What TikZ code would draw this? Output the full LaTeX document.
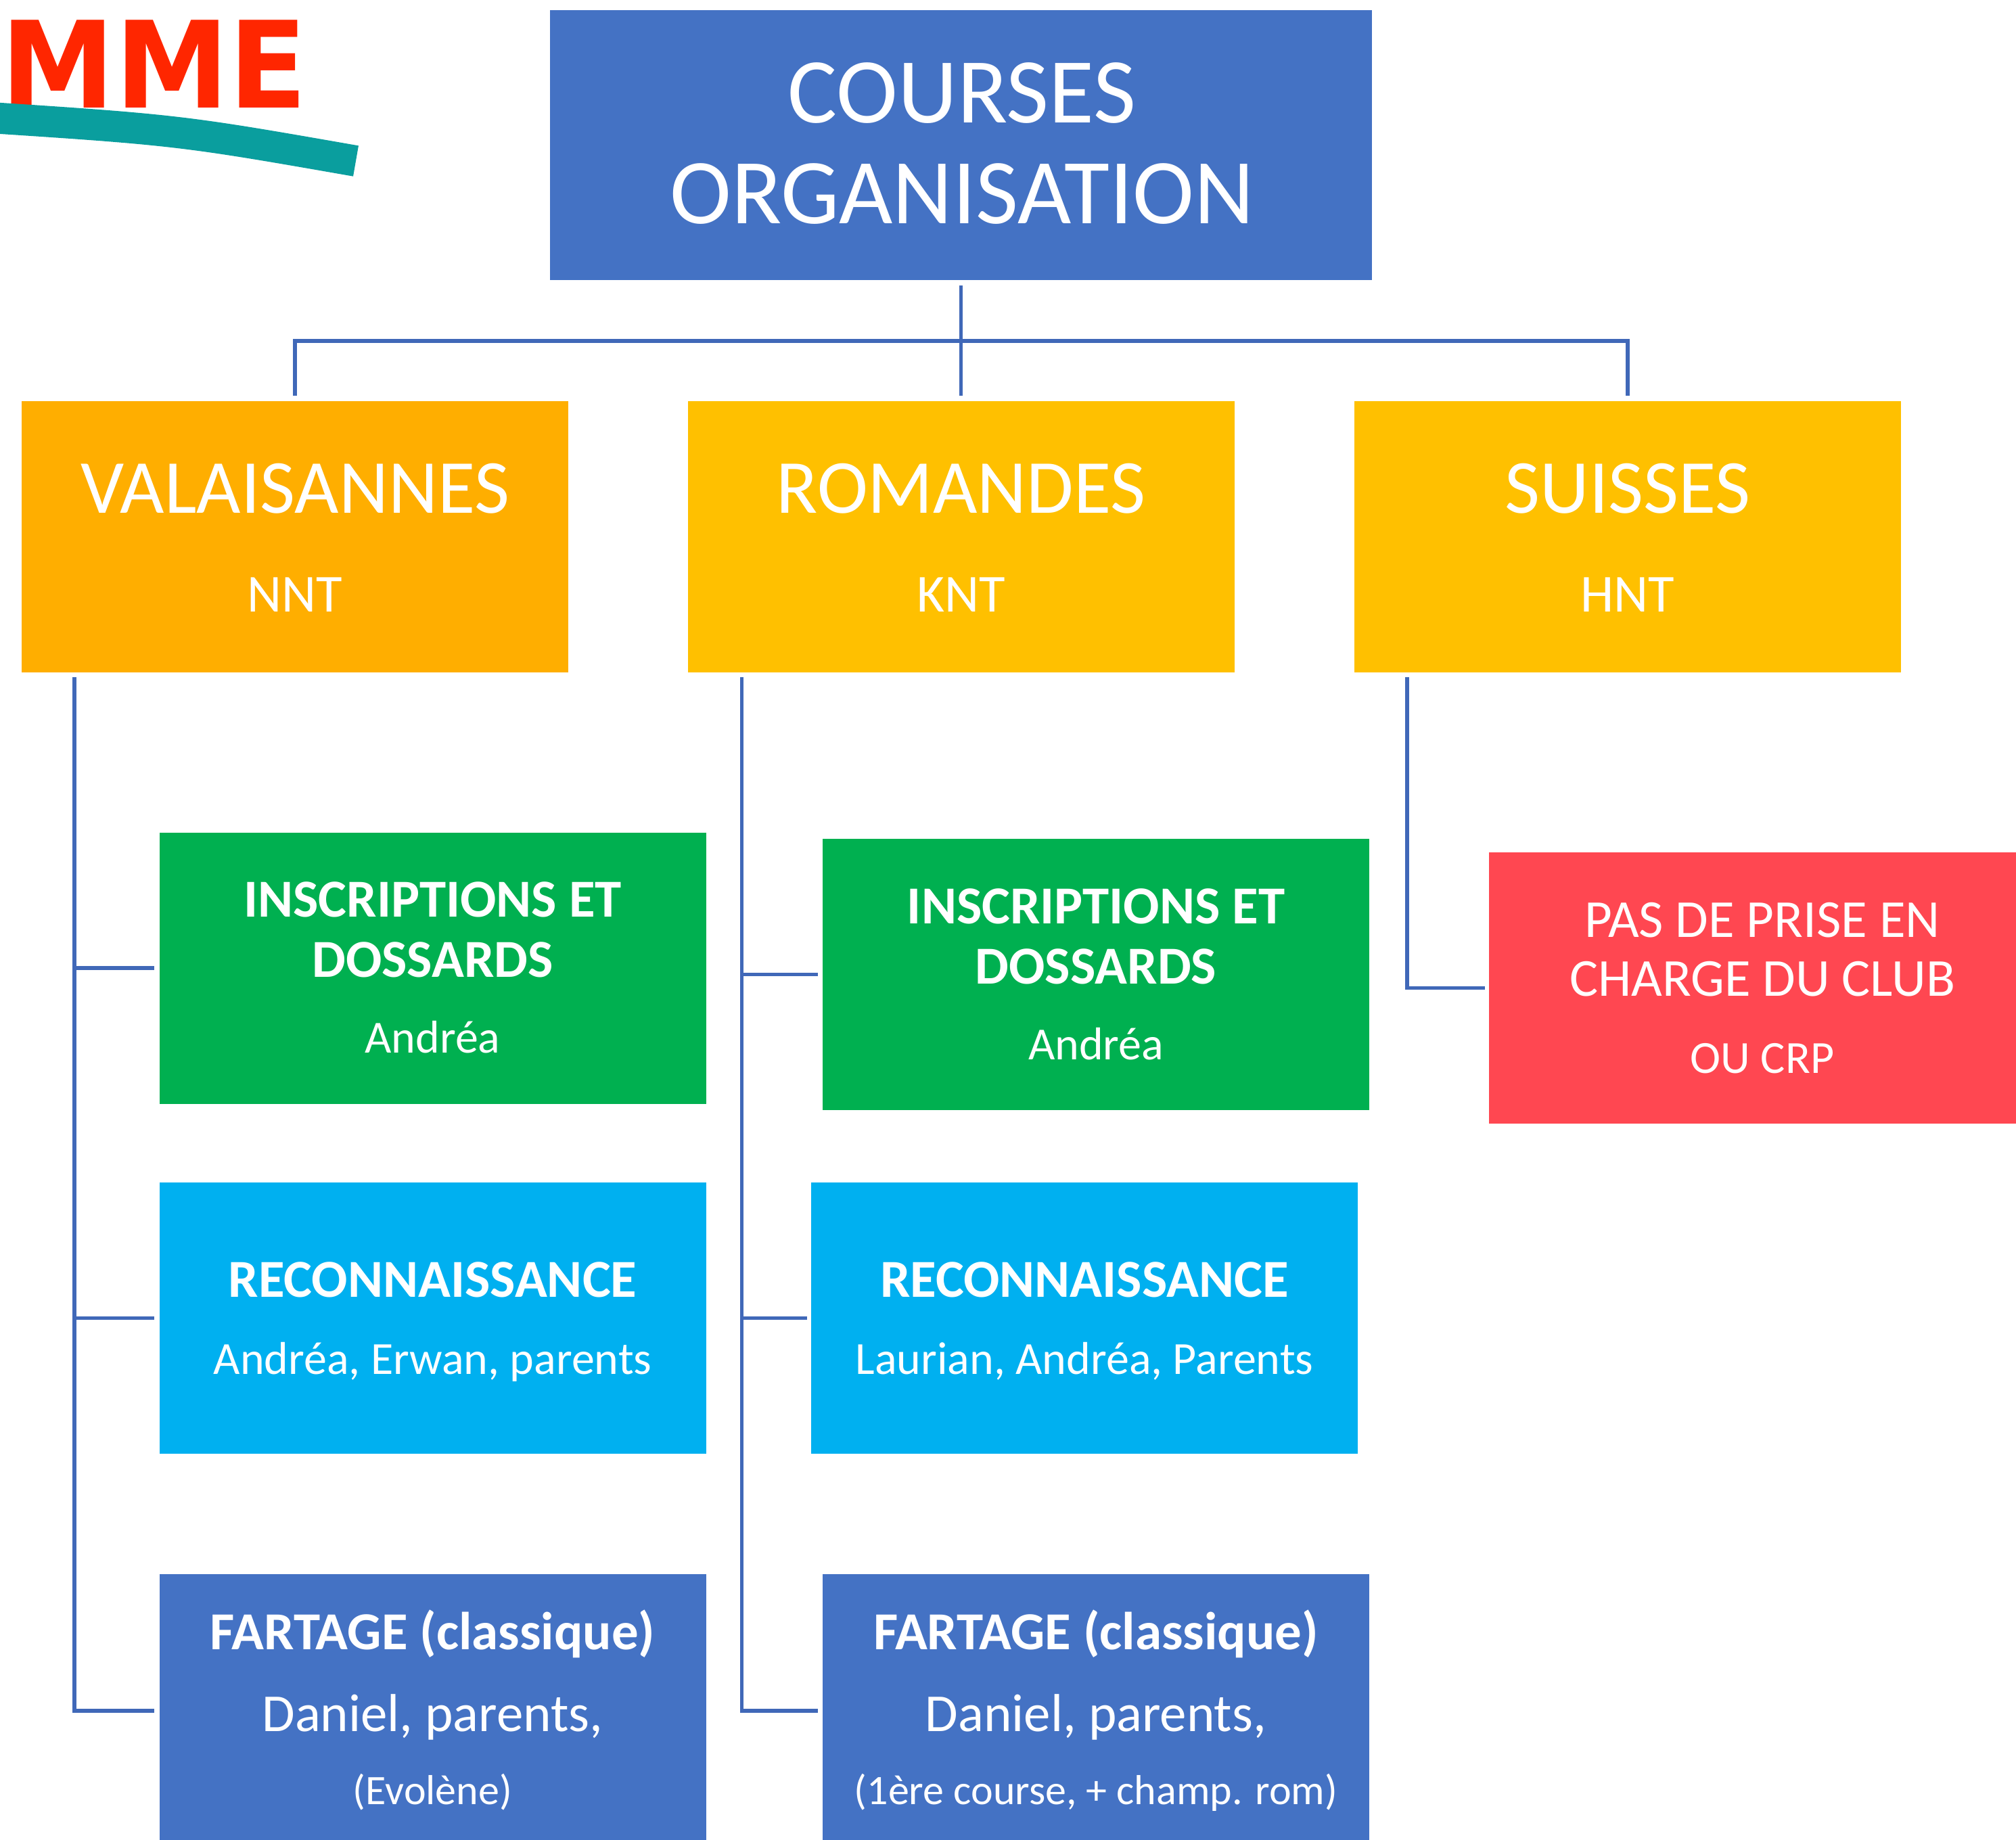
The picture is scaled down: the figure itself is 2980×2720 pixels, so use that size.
\documentclass[tikz,border=0pt]{standalone}
\usepackage{fontspec}
\setmainfont{Carlito}
\newfontfamily\logofont{DejaVu Sans}
\newcommand\fsz[1]{\fontsize{#1}{#1}\selectfont}
\definecolor{cblue}{RGB}{68,114,196}
\definecolor{corange}{RGB}{255,174,0}
\definecolor{cgold}{RGB}{255,192,0}
\definecolor{cgreen}{RGB}{0,176,80}
\definecolor{ccyan}{RGB}{0,176,240}
\definecolor{cred}{RGB}{255,71,81}
\definecolor{cline}{RGB}{64,104,184}
\definecolor{logored}{RGB}{255,38,0}
\definecolor{logoteal}{RGB}{10,158,158}
\begin{document}
\begin{tikzpicture}[x=1pt,y=-1pt,
  box/.style={draw=none,inner sep=0pt,outer sep=0pt,minimum width=808pt,minimum height=401pt},
  txt/.style={anchor=base,inner sep=0pt,text=white},
  conn/.style={draw=cline,line width=5.5pt,line join=miter}]
\useasboundingbox (0,0) rectangle (2980,2720);
% logo fragment
\node[font=\logofont\bfseries\fsz{178},text=logored,anchor=base east,inner sep=0pt] (logo) at (454,159) {\scalebox{0.95}[1]{AMME}};
\draw[line width=46pt,logoteal,line cap=butt] (-60,171) .. controls (263,192) .. (526,238);
% boxes
\node[box,fill=cblue,minimum width=1215pt,minimum height=399pt] (title) at (1420.5,214.5) {};
\node[box,fill=corange] (val) at (436,793.5) {};
\node[box,fill=cgold] (rom) at (1420.5,793.5) {};
\node[box,fill=cgold] (sui) at (2406,793.5) {};
\node[box,fill=cgreen] (i1) at (639.5,1431) {};
\node[box,fill=ccyan] (c1) at (639.5,1948.5) {};
\node[box,fill=cblue,minimum height=404pt] (f1) at (639.5,2529) {};
\node[box,fill=cgreen] (i2) at (1620,1440.5) {};
\node[box,fill=ccyan] (c2) at (1603,1948.5) {};
\node[box,fill=cblue,minimum height=404pt] (f2) at (1620,2529) {};
\node[box,fill=cred] (red) at (2605,1460.5) {};
% connectors
\coordinate (jn) at (1420.5,504);
\draw[conn] ([yshift=-8pt]title.south) -- ([yshift=8pt]rom.north);
\draw[conn] ([yshift=8pt]val.north) |- (jn) -| ([yshift=8pt]sui.north);
\draw[conn] ([xshift=78pt,yshift=-7pt]val.south west) |- ([xshift=-8pt]f1.west);
\draw[conn] ([xshift=78pt,yshift=-7pt]val.south west) |- ([xshift=-8pt]i1.west);
\draw[conn] ([xshift=78pt,yshift=-7pt]val.south west) |- ([xshift=-8pt]c1.west);
\draw[conn] ([xshift=80pt,yshift=-7pt]rom.south west) |- ([xshift=-7pt]f2.west);
\draw[conn] ([xshift=80pt,yshift=-7pt]rom.south west) |- ([xshift=-7pt]i2.west);
\draw[conn] ([xshift=80pt,yshift=-7pt]rom.south west) |- ([xshift=-6pt]c2.west);
\draw[conn] ([xshift=78pt,yshift=-7pt]sui.south west) |- ([xshift=-6pt]red.west);
% texts
\node[txt,font=\fsz{137}] (tt1) at (1422,181) {COURSES};
\node[txt,font=\fsz{137}] (tt2) at (1422,330) {ORGANISATION};
\node[txt,font=\fsz{113}] (v1) at (436,758) {VALAISANNES};
\node[txt,font=\fsz{79}] (v2) at (436,904) {NNT};
\node[txt,font=\fsz{113}] (r1) at (1420.5,758) {ROMANDES};
\node[txt,font=\fsz{79}] (r2) at (1420.5,904) {KNT};
\node[txt,font=\fsz{113}] (s1) at (2406,758) {SUISSES};
\node[txt,font=\fsz{79}] (s2) at (2406,904) {HNT};
\node[txt,font=\bfseries\fsz{79}] (i1a) at (639.5,1355) {INSCRIPTIONS ET};
\node[txt,font=\bfseries\fsz{79}] (i1b) at (639.5,1444) {DOSSARDS};
\node[txt,font=\fsz{68}] (i1c) at (639.5,1556) {Andréa};
\node[txt,font=\bfseries\fsz{79}] (c1a) at (639.5,1917) {RECONNAISSANCE};
\node[txt,font=\fsz{68}] (c1b) at (639.5,2031) {Andréa, Erwan, parents};
\node[txt,font=\bfseries\fsz{79}] (f1a) at (639.5,2438) {FARTAGE (classique)};
\node[txt,font=\fsz{79}] (f1b) at (639.5,2559) {Daniel, parents,};
\node[txt,font=\fsz{62}] (f1c) at (639.5,2667) {(Evolène)};
\node[txt,font=\bfseries\fsz{79}] (i2a) at (1620,1365) {INSCRIPTIONS ET};
\node[txt,font=\bfseries\fsz{79}] (i2b) at (1620,1454) {DOSSARDS};
\node[txt,font=\fsz{68}] (i2c) at (1620,1566) {Andréa};
\node[txt,font=\bfseries\fsz{79}] (c2a) at (1603,1917) {RECONNAISSANCE};
\node[txt,font=\fsz{68}] (c2b) at (1603,2031) {Laurian, Andréa, Parents};
\node[txt,font=\bfseries\fsz{79}] (f2a) at (1620,2438) {FARTAGE (classique)};
\node[txt,font=\fsz{79}] (f2b) at (1620,2559) {Daniel, parents,};
\node[txt,font=\fsz{62}] (f2c) at (1620,2667) {(1ère course, + champ. rom)};
\node[txt,font=\fsz{79}] (rd1) at (2605,1385) {PAS DE PRISE EN};
\node[txt,font=\fsz{79}] (rd2) at (2605,1472) {CHARGE DU CLUB};
\node[txt,font=\fsz{68}] (rd3) at (2605,1586) {OU CRP};
\end{tikzpicture}
\end{document}
